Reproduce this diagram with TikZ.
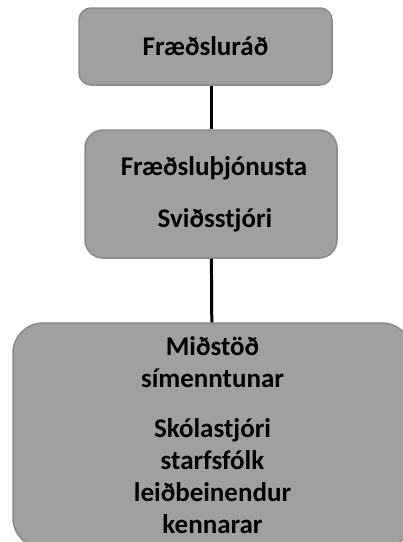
\documentclass[tikz,border=0pt]{standalone}
\usepackage{fontspec}
\setmainfont{Carlito}
\usepackage{tikz}

\definecolor{boxfill}{HTML}{A0A0A0}
\definecolor{boxline}{HTML}{8A8A8A}

\begin{document}
\begin{tikzpicture}[
  x = 1pt, y = -1pt,
  unit/.style = {draw=boxline,fill=boxfill,line width=1.5pt,align=center,
    font=\bfseries\fontsize{27}{32}\selectfont,inner sep=0pt},
  link/.style = {line width=3pt,black}
  ]
  \useasboundingbox (0,0) rectangle (403,542);
  \node[unit,rounded corners=12pt,minimum width=253pt,minimum height=77pt] (@1) at (205.5,46.5) {Fræðsluráð};
  \node[unit,rounded corners=18pt,minimum width=252pt,minimum height=128pt] (@2) at (211,194)
    {\hspace*{6pt}Fræðsluþjónusta\\[20pt] \hspace*{8pt}Sviðsstjóri};
  \node[unit,rounded corners=30pt,minimum width=399pt,minimum height=225pt] (@3) at (212.5,435.5)
    {Miðstöð\\ símenntunar\\[18pt] Skólastjóri\\ starfsfólk\\ leiðbeinendur\\ kennarar};
  \draw[link] (@2.north) -- (@2.north |- @1.south);
  \draw[link] (@2) -- (@3);
\end{tikzpicture}
\end{document}
